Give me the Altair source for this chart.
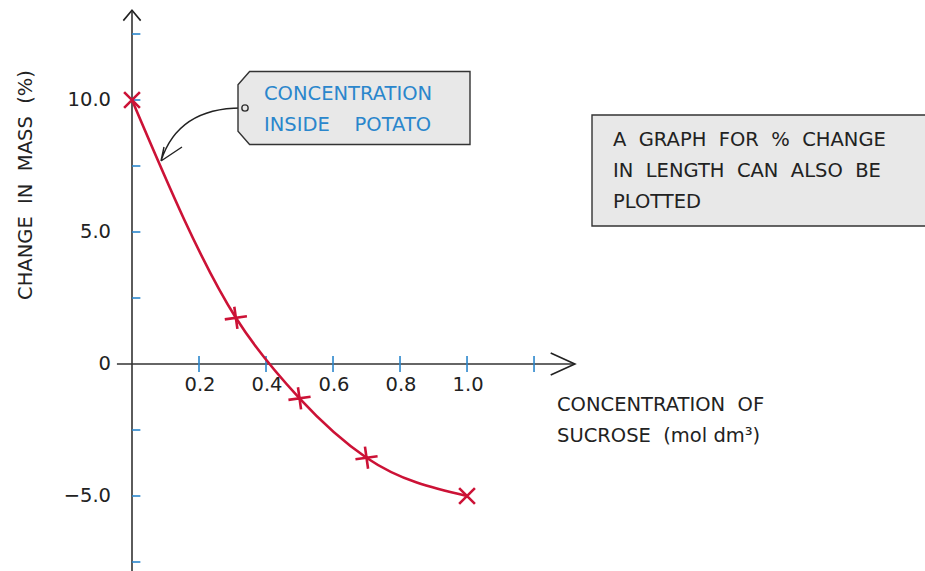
import altair as alt
import pandas as pd

# ---- data ----
conc = [0.0, 0.31, 0.5, 0.7, 1.0]
mass_change = [10.0, 1.75, -1.3, -3.55, -5.0]
marker_angle = [45, -8, -8, -8, 45]

x_ticks = [0.2, 0.4, 0.6, 0.8, 1.0, 1.2]
x_tick_labels = ["0.2", "0.4", "0.6", "0.8", "1.0", ""]
y_ticks = [12.5, 10.0, 7.5, 5.0, 2.5, -2.5, -5.0, -7.5]
y_label_vals = [10.0, 5.0, 0.0, -5.0]
y_label_text = ["10.0", "5.0", "0", "\u22125.0"]

S = "\u00a0 "  # widened word gap
y_title = f"CHANGE{S}IN{S}MASS{S}(%)"
x_title = [f"CONCENTRATION{S}OF", f"SUCROSE{S}(mol dm\u00b3)"]
tag_lines = ["CONCENTRATION", f"INSIDE{S}{S}POTATO"]
note_lines = [f"A{S}GRAPH{S}FOR{S}%{S}CHANGE", f"IN{S}LENGTH{S}CAN{S}ALSO{S}BE", "PLOTTED"]

W, H = 925, 571
X_DOM = [-0.394, 2.367]
Y_DOM = [-7.841, 13.788]

xs = alt.Scale(domain=X_DOM, nice=False, zero=False)
ys = alt.Scale(domain=Y_DOM, nice=False, zero=False)

FONT = "DejaVu Sans"
FS = 19.5
RED = "#cc1236"
BLUE = "#2a86cc"
INK = "#222222"

pts = pd.DataFrame({"x": conc, "y": mass_change, "a": marker_angle})

# axes lines
xaxis = alt.Chart(pd.DataFrame({"x": [-0.045], "x2": [1.32], "y": [0.0]})).mark_rule(
    color="#333333", strokeWidth=1.6
).encode(x=alt.X("x:Q", scale=xs, axis=None), x2="x2:Q", y=alt.Y("y:Q", scale=ys, axis=None))

yaxis = alt.Chart(pd.DataFrame({"x": [0.0], "y": [-7.9], "y2": [13.35]})).mark_rule(
    color="#333333", strokeWidth=1.6
).encode(x=alt.X("x:Q", scale=xs, axis=None), y=alt.Y("y:Q", scale=ys, axis=None), y2="y2:Q")

# arrowheads
arrow_up = alt.Chart(pd.DataFrame({"x": [0.0], "y": [13.4]})).mark_point(
    shape="M -1 1.2 L 0 0 L 1 1.2", size=300, filled=False, stroke="#222222", strokeWidth=1.6, opacity=1
).encode(x=alt.X("x:Q", scale=xs, axis=None), y=alt.Y("y:Q", scale=ys, axis=None))

arrow_right = alt.Chart(pd.DataFrame({"x": [1.322], "y": [0.0]})).mark_point(
    shape="M -2.2 -1 L 0 0 L -2.2 1", size=484, filled=False, stroke="#222222", strokeWidth=1.6, opacity=1
).encode(x=alt.X("x:Q", scale=xs, axis=None), y=alt.Y("y:Q", scale=ys, axis=None))

# blue ticks
ytick_df = pd.DataFrame({"x": [0.0] * len(y_ticks), "x2": [0.025] * len(y_ticks), "y": y_ticks})
yticks = alt.Chart(ytick_df).mark_rule(color=BLUE, strokeWidth=1.6).encode(
    x=alt.X("x:Q", scale=xs, axis=None), x2="x2:Q", y=alt.Y("y:Q", scale=ys, axis=None)
)
xtick_df = pd.DataFrame({"x": x_ticks, "y": [0.3] * len(x_ticks), "y2": [-0.3] * len(x_ticks)})
xticks = alt.Chart(xtick_df).mark_rule(color=BLUE, strokeWidth=1.6).encode(
    x=alt.X("x:Q", scale=xs, axis=None), y=alt.Y("y:Q", scale=ys, axis=None), y2="y2:Q"
)

# tick labels
ylab = alt.Chart(pd.DataFrame({"y": y_label_vals, "t": y_label_text})).mark_text(
    align="right", baseline="middle", font=FONT, fontSize=FS, color=INK
).encode(x=alt.value(111), y=alt.Y("y:Q", scale=ys, axis=None), text="t:N")

xlab = alt.Chart(pd.DataFrame({"x": x_ticks, "t": x_tick_labels})).mark_text(
    align="center", baseline="middle", font=FONT, fontSize=FS, color=INK, dx=1
).encode(x=alt.X("x:Q", scale=xs, axis=None), y=alt.value(385), text="t:N")

# curve and markers
curve = alt.Chart(pts).mark_line(color=RED, strokeWidth=2.6, interpolate="monotone").encode(
    x=alt.X("x:Q", scale=xs, axis=None), y=alt.Y("y:Q", scale=ys, axis=None)
)
markers = alt.Chart(pts).mark_point(
    shape="M -1 0 L 1 0 M 0 -1 L 0 1", size=500, filled=False, stroke=RED, strokeWidth=2.6, opacity=1
).encode(
    x=alt.X("x:Q", scale=xs, axis=None), y=alt.Y("y:Q", scale=ys, axis=None), angle=alt.Angle("a:Q", scale=None)
)

# axis titles
ytitle = alt.Chart(pd.DataFrame({"t": [y_title]})).mark_text(
    angle=270, align="center", baseline="middle", font=FONT, fontSize=FS, color=INK
).encode(x=alt.value(26), y=alt.value(185), text="t:N")

xtitle = alt.Chart(pd.DataFrame({"t": [x_title]})).mark_text(
    align="left", baseline="middle", font=FONT, fontSize=FS, color=INK, lineHeight=31
).encode(x=alt.value(557), y=alt.value(405), text="t")

# tag annotation
tag = alt.Chart(pd.DataFrame({"k": [0]})).mark_point(
    shape="M -1 -0.2 L -0.9 -0.315 L 1 -0.315 L 1 0.315 L -0.9 0.315 L -1 0.2 Z",
    size=232 * 232, filled=True, fill="#e8e8e8", stroke="#333333", strokeWidth=1.4, opacity=1
).encode(x=alt.value(354), y=alt.value(108))

tag_text = alt.Chart(pd.DataFrame({"t": [tag_lines]})).mark_text(
    align="left", baseline="middle", font=FONT, fontSize=FS, color=BLUE, lineHeight=31
).encode(x=alt.value(264), y=alt.value(94), text="t")

hole = alt.Chart(pd.DataFrame({"k": [0]})).mark_point(
    shape="circle", size=40, filled=True, fill="#e8e8e8", stroke="#333333", strokeWidth=1.4, opacity=1
).encode(x=alt.value(245), y=alt.value(108))

arrow_curve = alt.Chart(pd.DataFrame({"k": [0]})).mark_point(
    shape="M 0.88 -0.52 Q -0.45 -0.55 -0.8 0.54 M -0.8 0.54 L -0.74 0.26 M -0.8 0.54 L -0.38 0.26",
    size=10000, filled=False, stroke="#222222", strokeWidth=1.4, opacity=1
).encode(x=alt.value(201), y=alt.value(134))

# note box
note_box = alt.Chart(pd.DataFrame({"k": [0]})).mark_rect(
    fill="#e8e8e8", stroke="#333333", strokeWidth=1.4
).encode(x=alt.value(592), x2=alt.value(940), y=alt.value(115), y2=alt.value(226))

note_text = alt.Chart(pd.DataFrame({"t": [note_lines]})).mark_text(
    align="left", baseline="middle", font=FONT, fontSize=FS, color=INK, lineHeight=31
).encode(x=alt.value(613), y=alt.value(140), text="t")

chart = alt.layer(
    note_box, note_text,
    xaxis, yaxis, arrow_up, arrow_right, yticks, xticks, ylab, xlab,
    curve, markers, ytitle, xtitle,
    arrow_curve, tag, hole, tag_text,
).properties(
    width=W, height=H, padding=0, autosize="none", background="white"
).configure_view(stroke=None)

chart.save("out.html", embed_options={"renderer": "svg", "actions": False})
